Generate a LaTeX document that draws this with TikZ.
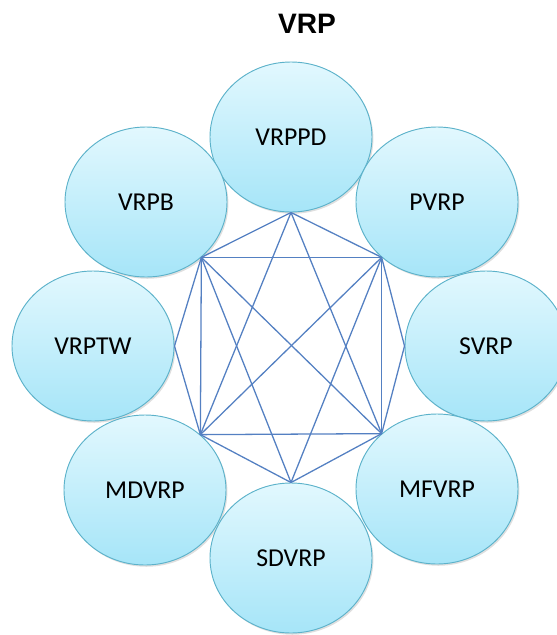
\documentclass[tikz,border=0pt]{standalone}
\usepackage{fontspec}
\setmainfont{Carlito}
\newfontfamily\titlefont{Liberation Sans}
\usetikzlibrary{shapes.geometric,shadows}
\definecolor{rimblue}{RGB}{92,178,202}
\definecolor{toplight}{RGB}{226,248,254}
\definecolor{botlight}{RGB}{166,229,248}
\definecolor{linkblue}{RGB}{84,128,194}
\begin{document}
\begin{tikzpicture}[x=0.03cm, y=-0.03cm,
  prob/.style={ellipse, draw=rimblue, line width=0.8pt, top color=toplight, bottom color=botlight,
    minimum width=4.86cm, minimum height=4.5cm, inner sep=0pt,
    drop shadow={opacity=0.25, shadow xshift=1.2pt, shadow yshift=-1.5pt},
    font=\fontsize{22}{26}\selectfont},
  link/.style={draw=linkblue, line width=1.1pt}]
\useasboundingbox (0,0) rectangle (557,635);
\clip (0,0) rectangle (557,635);
\node[font=\titlefont\bfseries\fontsize{24}{28}\selectfont] (title) at (307,24) {VRP};
\node[prob] (vrppd) at (291,137) {VRPPD};
\node[prob] (vrpb) at (146,202) {VRPB};
\node[prob] (pvrp) at (437,202) {PVRP};
\node[prob] (vrptw) at (93,346) {VRPTW};
\node[prob] (svrp) at (486,346) {SVRP};
\node[prob] (mdvrp) at (145,490) {MDVRP};
\node[prob] (mfvrp) at (437,489) {MFVRP};
\node[prob] (sdvrp) at (291,558) {SDVRP};
% outer ring
\draw[link](vrppd.south) -- (pvrp.-135);
\draw[link](pvrp.-135) -- (svrp.west);
\draw[link](svrp.west) -- (mfvrp.135);
\draw[link](mfvrp.135) -- (sdvrp.north);
\draw[link](sdvrp.north) -- (mdvrp.45);
\draw[link](mdvrp.45) -- (vrptw.east);
\draw[link](vrptw.east) -- (vrpb.-45);
\draw[link](vrpb.-45) -- (vrppd.south);
% square and diagonals
\draw[link](vrpb.-45) -- (pvrp.-135);
\draw[link](pvrp.-135) -- (mfvrp.135);
\draw[link](mfvrp.135) -- (mdvrp.45);
\draw[link](mdvrp.45) -- (vrpb.-45);
\draw[link](vrpb.-45) -- (mfvrp.135);
\draw[link](pvrp.-135) -- (mdvrp.45);
% top and bottom spokes
\draw[link](vrppd.south) -- (mdvrp.45);
\draw[link](vrppd.south) -- (mfvrp.135);
\draw[link](sdvrp.north) -- (vrpb.-45);
\draw[link](sdvrp.north) -- (pvrp.-135);
\end{tikzpicture}
\end{document}
